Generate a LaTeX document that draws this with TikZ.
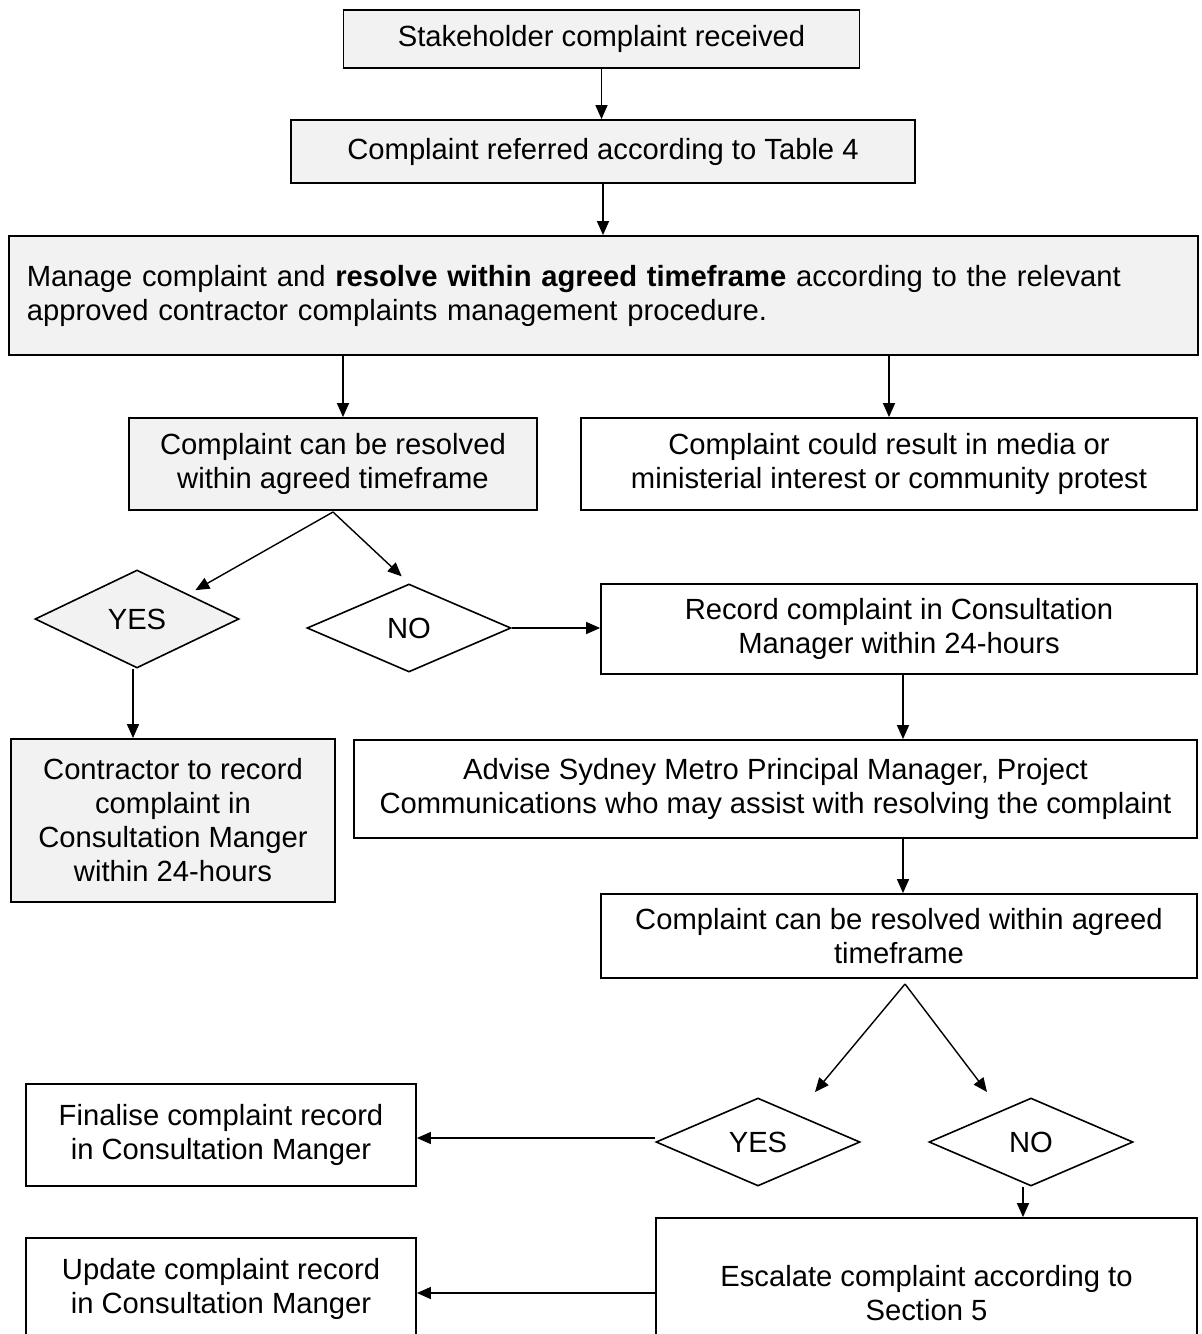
\documentclass[tikz,border=0pt]{standalone}
\usepackage{fontspec}
\setmainfont{Liberation Sans}
\usetikzlibrary{arrows.meta,shapes.geometric}
\definecolor{box-grey}{RGB}{242,242,242}
\tikzset{
    flow-box/.style = {draw=black, fill=white, line width=0.9pt, rectangle, align=center, inner sep=0pt, font=\fontsize{14.6}{17}\selectfont},
    flow-box-grey/.style = {flow-box, fill=box-grey},
    decision/.style = {draw=black, fill=white, line width=0.8pt, diamond, inner sep=0pt, minimum width=102pt, minimum height=44pt, font=\fontsize{14.6}{17}\selectfont},
    flow-arrow/.style = {-{Triangle[length=7pt,width=6pt]}, line width=0.7pt},
}

\begin{document}
\begin{tikzpicture}[x=0.5pt, y=-0.5pt]
\useasboundingbox (0,0) rectangle (1201,1334);
\clip (0,0) rectangle (1201,1334);
% top of the procedure
\node [flow-box-grey, minimum width=258pt, minimum height=29pt] (received) at (601.5,39) {Stakeholder complaint received};
\node [flow-box-grey, minimum width=312pt, minimum height=31.5pt] (referred) at (603,151.5) {Complaint referred according to Table 4};
\node [flow-box-grey, text width=576.5pt, minimum height=59.5pt, align=left, anchor=west, inner xsep=9pt] (manage) at (8,295.5) {Manage complaint and \textbf{resolve within agreed timeframe} according to the relevant\\approved contractor complaints management procedure.};
% first split
\node [flow-box-grey, minimum width=204pt, minimum height=46pt] (resolvable) at (333,464) {Complaint can be resolved\\within agreed timeframe};
\node [flow-box, minimum width=308pt, minimum height=46pt] (media) at (889,464) {Complaint could result in media or\\ministerial interest or community protest};
\node [decision, fill=box-grey, minimum height=49pt] (yes-one) at (137,619) {YES};
\node [decision] (no-one) at (409,628) {NO};
\node [flow-box, minimum width=298pt, minimum height=45pt] (record) at (899,629) {Record complaint in Consultation\\Manager within 24-hours};
\node [flow-box-grey, minimum width=162pt, minimum height=81.5pt] (contractor) at (173,820.5) {Contractor to record\\complaint in\\Consultation Manger\\within 24-hours};
\node [flow-box, minimum width=421.5pt, minimum height=49pt] (advise) at (775.5,789) {Advise Sydney Metro Principal Manager, Project\\Communications who may assist with resolving the complaint};
\node [flow-box, minimum width=298pt, minimum height=42pt] (resolvable-two) at (899,936) {Complaint can be resolved within agreed\\timeframe};
% second split
\node [decision] (yes-two) at (758,1142) {YES};
\node [decision] (no-two) at (1031,1142) {NO};
\node [flow-box, minimum width=195pt, minimum height=51pt] (finalise) at (221,1135) {Finalise complaint record\\in Consultation Manger};
\node [flow-box, minimum width=270.5pt, minimum height=75pt] (escalate) at (926.5,1293) {Escalate complaint according to\\Section 5};
\node [flow-box, minimum width=195pt, minimum height=51pt] (update) at (221,1289) {Update complaint record\\in Consultation Manger};
\coordinate (split-one) at (333,512);
\coordinate (split-two) at (905,984);
\coordinate (yes-two-tip) at (815,1092);
\coordinate (no-two-tip) at (987,1092);
\coordinate (yes-one-foot) at ([xshift=-2pt]yes-one.south);
\coordinate (record-foot) at ([xshift=2pt]record.south);
\coordinate (yes-two-side) at ([yshift=2pt]yes-two.west);
\coordinate (no-two-foot) at ([xshift=-4pt]no-two.south);

\draw[flow-arrow] (received) -- (referred.north -| received.south);
\draw[flow-arrow] (referred) -- (referred |- manage.north);
\draw[flow-arrow] ([xshift=5pt]resolvable.north |- manage.south) -- ([xshift=5pt]resolvable.north);
\draw[flow-arrow] (media.north |- manage.south) -- (media.north);
\draw[flow-arrow, shorten >=4pt] (split-one) -- (yes-one.north east);
\draw[flow-arrow, shorten >=5pt] (split-one) -- (no-one.north);
\draw[flow-arrow] (no-one.east) -- (record.west |- no-one.east);
\draw[flow-arrow] (yes-one-foot) -- (contractor.north -| yes-one-foot);
\draw[flow-arrow] (record-foot) -- (advise.north -| record-foot);
\draw[flow-arrow] ([xshift=2pt]resolvable-two.north |- advise.south) -- ([xshift=2pt]resolvable-two.north);
\draw[flow-arrow] (split-two) -- (yes-two-tip);
\draw[flow-arrow] (split-two) -- (no-two-tip);
\draw[flow-arrow] (yes-two-side) -- (finalise.east |- yes-two-side);
\draw[flow-arrow] (no-two-foot) -- (escalate.north -| no-two-foot);
\draw[flow-arrow] (escalate.west) -- (update.east |- escalate.west);
\end{tikzpicture}
\end{document}
